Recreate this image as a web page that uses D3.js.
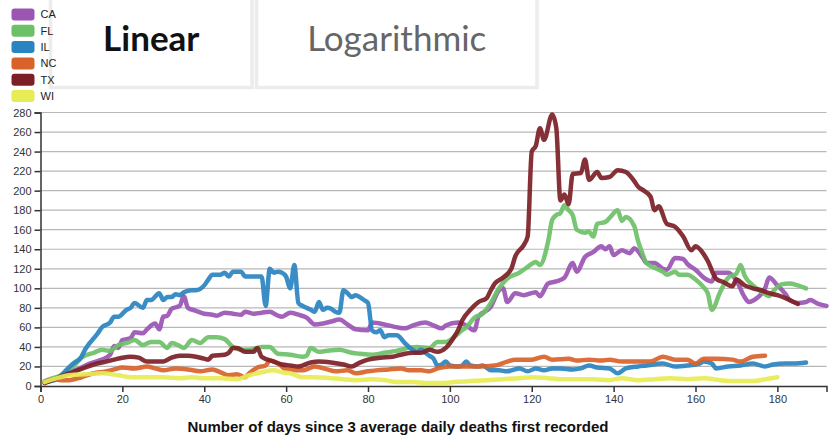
<!DOCTYPE html>
<html>
<head>
<meta charset="utf-8">
<script src="https://cdn.jsdelivr.net/npm/d3@7"></script>
<style>
  body { margin: 0; background: #fff; }
  svg { display: block; }
</style>
</head>
<body>
<script>
const width = 833
const height = 437

const states = ['CA', 'FL', 'IL', 'NC', 'TX', 'WI']
const colors = ['#9b55b3', '#6cc068', '#2a84c0', '#d8622a', '#7c2026', '#e6ec55']
const yTicks = [0, 20, 40, 60, 80, 100, 120, 140, 160, 180, 200, 220, 240, 260, 280]
const xTicks = [0, 20, 40, 60, 80, 100, 120, 140, 160, 180]

// [day, average daily deaths]
const caData = [[1,4],[4,8],[6,13],[9,17],[12,23],[15,27],[17,32],[18,41],[19,39],[20,47],[22,49],[23,55],[25,54],[26,58],[28,64],[29,58],[30,71],[31,72],[32,79],[34,82],[35,92],[36,80],[38,77],[40,74],[42,73],[43,72],[45,75],[47,74],[49,73],[50,76],[52,74],[54,75],[56,76],[58,72],[59,71],[61,75],[63,73],[65,70],[67,63],[69,64],[71,66],[73,68],[75,63],[77,58],[80,57],[81,65],[84,63],[86,61],[89,59],[91,62],[94,65],[96,62],[98,59],[99,62],[102,65],[104,62],[106,57],[107,71],[110,81],[112,98],[113,100],[114,86],[116,95],[118,93],[121,96],[122,92],[124,105],[126,107],[128,111],[130,126],[131,117],[133,132],[135,137],[137,143],[138,140],[139,143],[140,134],[142,139],[144,136],[145,141],[147,132],[148,126],[150,126],[152,120],[153,119],[155,131],[157,130],[158,125],[160,119],[162,111],[164,107],[165,116],[168,116],[170,108],[172,91],[173,86],[175,90],[177,100],[178,111],[180,103],[182,94],[183,88],[185,85],[187,86],[188,88],[190,84],[192,82]]

const flData = [[1,5],[3,8],[5,11],[8,20],[10,29],[13,34],[15,37],[17,36],[19,42],[21,44],[23,47],[25,42],[27,45],[29,45],[31,39],[32,44],[34,41],[35,39],[37,47],[39,44],[41,50],[43,50],[45,48],[47,40],[49,37],[51,37],[54,40],[56,40],[58,33],[61,32],[64,30],[65,31],[66,39],[68,35],[70,36],[73,37],[76,34],[78,33],[81,32],[84,34],[87,36],[90,39],[92,40],[95,39],[97,45],[99,45],[101,50],[103,57],[104,60],[106,70],[108,74],[110,85],[112,100],[114,110],[117,116],[119,122],[121,127],[122,124],[124,148],[125,170],[126,175],[127,177],[128,185],[129,180],[130,175],[131,160],[133,157],[134,158],[135,153],[136,166],[138,168],[139,172],[141,180],[142,169],[143,173],[145,164],[146,148],[147,136],[148,126],[150,121],[152,117],[153,114],[155,117],[156,114],[158,114],[160,109],[162,101],[163,95],[164,78],[166,96],[168,111],[170,115],[171,124],[172,113],[174,103],[176,97],[178,92],[179,97],[181,104],[183,105],[185,103],[187,100]]

const ilData = [[1,4],[4,7],[6,15],[8,23],[10,30],[11,38],[14,54],[15,60],[17,65],[18,71],[19,71],[21,78],[22,80],[23,85],[25,80],[26,88],[27,88],[29,95],[30,88],[31,91],[32,91],[33,94],[34,93],[35,96],[37,98],[38,98],[40,103],[41,109],[42,114],[44,114],[45,116],[46,112],[47,117],[49,117],[50,112],[52,112],[54,112],[55,82],[56,120],[57,116],[58,117],[59,116],[60,112],[61,100],[62,124],[63,85],[64,82],[65,80],[66,78],[67,76],[68,86],[69,78],[70,80],[71,79],[72,76],[73,75],[74,98],[75,95],[76,91],[77,93],[78,91],[79,88],[80,85],[81,57],[82,55],[83,57],[84,50],[85,52],[87,52],[89,44],[90,40],[92,35],[93,37],[94,34],[95,31],[96,28],[97,21],[98,22],[99,25],[100,21],[102,20],[103,21],[104,25],[105,21],[107,20],[108,21],[110,16],[112,16],[114,15],[115,16],[117,18],[119,15],[121,18],[123,16],[125,18],[127,18],[130,17],[132,18],[134,21],[136,19],[139,18],[141,13],[143,18],[146,20],[148,21],[152,23],[155,20],[158,21],[161,23],[162,25],[164,23],[165,18],[168,20],[171,21],[174,23],[177,20],[179,22],[182,23],[184,23],[187,24]]

const ncData = [[1,4],[3,7],[5,6],[7,6],[10,9],[13,13],[16,15],[18,17],[20,19],[23,18],[26,20],[28,18],[30,16],[33,18],[36,17],[39,15],[42,17],[44,14],[46,11],[48,12],[50,9],[51,13],[53,19],[55,21],[56,26],[58,23],[60,17],[64,16],[67,20],[70,17],[72,15],[75,16],[77,13],[80,15],[82,16],[85,17],[88,18],[90,16],[93,16],[95,15],[97,18],[100,20],[103,20],[107,20],[111,21],[114,25],[116,27],[120,27],[123,30],[125,27],[129,28],[131,26],[134,27],[137,26],[139,27],[142,25],[146,25],[149,25],[152,30],[155,27],[158,27],[160,23],[162,28],[165,28],[169,27],[171,25],[174,30],[177,31]]

const txData = [[1,3],[4,8],[7,13],[9,16],[11,19],[13,22],[16,25],[18,27],[20,29],[22,30],[24,29],[26,25],[28,25],[30,25],[32,29],[34,31],[36,31],[38,30],[40,28],[41,27],[42,31],[45,32],[46,34],[47,39],[48,39],[50,35],[52,35],[53,39],[54,30],[57,25],[59,22],[61,21],[63,20],[66,24],[68,25],[71,24],[74,22],[76,20],[78,24],[80,27],[83,29],[86,30],[88,32],[91,34],[93,34],[95,37],[97,35],[99,39],[101,50],[102,57],[103,67],[105,78],[107,86],[109,90],[110,98],[111,105],[113,111],[115,120],[116,133],[118,144],[119,153],[120,240],[121,246],[122,264],[123,252],[125,278],[126,264],[127,190],[128,196],[129,186],[130,217],[132,218],[133,232],[134,211],[136,219],[137,213],[139,214],[141,221],[143,219],[145,210],[146,204],[147,201],[149,194],[150,180],[151,184],[153,166],[155,163],[157,153],[159,139],[160,143],[162,135],[163,128],[165,110],[167,106],[169,102],[170,109],[172,103],[174,100],[176,98],[178,95],[180,93],[182,90],[184,86],[185,84]]

const wiData = [[1,4],[4,8],[7,11],[11,12],[15,13],[19,11],[22,9],[26,9],[30,9],[34,8],[37,9],[40,8],[44,8],[48,7],[51,11],[54,14],[57,16],[59,14],[61,13],[64,9],[67,9],[71,8],[74,7],[77,6],[81,7],[84,6],[87,4],[91,4],[94,3],[98,3],[101,4],[105,5],[109,6],[113,7],[117,8],[120,9],[124,8],[127,7],[131,7],[135,7],[139,6],[142,8],[146,6],[150,7],[154,8],[158,7],[162,8],[166,6],[170,5],[174,5],[177,7],[180,9]]

const series = [caData, flData, ilData, ncData, txData, wiData]

const margin = { top: 112.5, right: 6.5, bottom: 51, left: 40.5 }

const svg = d3.select('body')
  .append('svg')
  .attr('width', width)
  .attr('height', height)

// scale buttons at the top
const buttons = [
  { label: 'Linear', x0: 50.5, x1: 252, weight: 700, color: '#111' },
  { label: 'Logarithmic', x0: 256.5, x1: 537, weight: 400, color: '#666' },
]
buttons.forEach(b => {
  svg.append('rect')
    .attr('x', b.x0)
    .attr('y', -10)
    .attr('width', b.x1 - b.x0)
    .attr('height', 97.5)
    .attr('fill', '#fff')
    .attr('stroke', '#ececec')
    .attr('stroke-width', 3.5)
  svg.append('text')
    .text(b.label)
    .attr('x', (b.x0 + b.x1) / 2)
    .attr('y', 51)
    .attr('text-anchor', 'middle')
    .style('font-family', 'Lato, sans-serif')
    .style('font-size', '35px')
    .style('font-weight', b.weight)
    .style('fill', b.color)
})

var x = d3.scaleLinear()
  .domain([0, 192])
  .range([margin.left, width - margin.right])

var y = d3.scaleLinear()
  .domain([0, 280])
  .range([height - margin.bottom, margin.top])

// grid
svg.append('g')
  .selectAll('line')
  .data(yTicks.slice(1))
  .join('line')
  .attr('x1', margin.left)
  .attr('x2', width - margin.right)
  .attr('y1', d => y(d))
  .attr('y2', d => y(d))
  .attr('stroke', '#b8b8b8')
  .attr('stroke-width', 1.2)

var xAxis = svg.append('g')
  .attr('transform', `translate(0,${height - margin.bottom})`)
  .call(d3.axisBottom(x).tickValues(xTicks).tickSizeOuter(6))

var yAxis = svg.append('g')
  .attr('transform', `translate(${margin.left},0)`)
  .call(d3.axisLeft(y).tickValues(yTicks).tickSizeOuter(6))

;[xAxis, yAxis].forEach(g => {
  g.selectAll('path, line').attr('stroke', '#333').attr('stroke-width', 1.5)
  g.selectAll('text')
    .style('font-family', 'Helvetica, Arial, sans-serif')
    .style('font-size', '11px')
    .attr('fill', '#333')
})

var line = d3.line()
  .x(d => x(d[0]))
  .y(d => y(d[1]))
  .curve(d3.curveMonotoneX)

svg.append('g')
  .selectAll('path')
  .data(series)
  .join('path')
  .attr('d', line)
  .attr('fill', 'none')
  .attr('stroke', (_, i) => colors[i])
  .attr('stroke-width', 4.5)
  .attr('stroke-linejoin', 'round')
  .attr('stroke-linecap', 'round')
  .attr('opacity', 0.92)

// legend
var legend = svg.append('g')
  .selectAll('g')
  .data(states)
  .join('g')
  .attr('transform', (_, i) => `translate(11.5,${8.5 + i * 16.3})`)

legend.append('rect')
  .attr('width', 23)
  .attr('height', 12)
  .attr('rx', 3)
  .attr('fill', (_, i) => colors[i])

legend.append('text')
  .text(d => d)
  .attr('x', 29)
  .attr('y', 6)
  .attr('dy', '0.35em')
  .style('font-family', 'Helvetica, Arial, sans-serif')
  .style('font-size', '11px')
  .attr('fill', '#222')

svg.append('text')
  .text('Number of days since 3 average daily deaths first recorded')
  .attr('x', 398)
  .attr('y', 432)
  .attr('text-anchor', 'middle')
  .style('font-family', 'Helvetica, Arial, sans-serif')
  .style('font-size', '15px')
  .style('font-weight', 'bold')
  .attr('fill', '#111')
</script>
</body>
</html>
